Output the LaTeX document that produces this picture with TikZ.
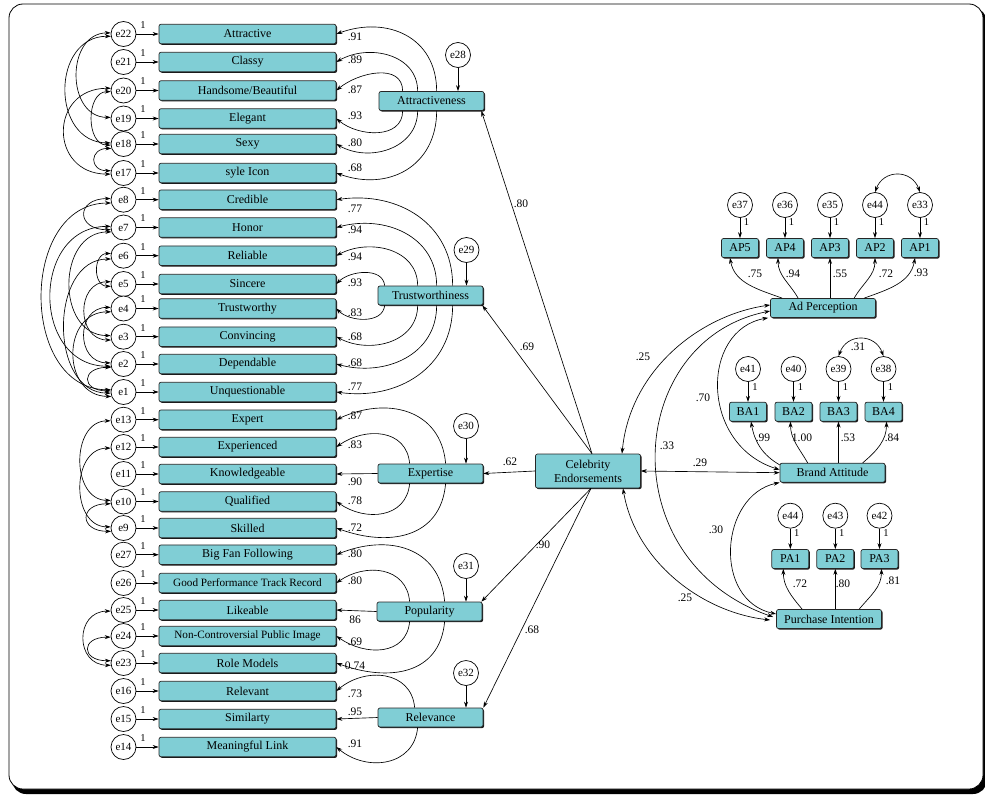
\documentclass[tikz,border=0pt]{standalone}
\usepackage{fontspec}
\setmainfont{Liberation Serif}
\usetikzlibrary{arrows.meta,shadows,calc}
\definecolor{boxfill}{RGB}{128,206,213}
\newcommand\myfs[1]{\fontsize{#1}{#1}\selectfont}
\begin{document}
\begin{tikzpicture}[x=1pt,y=-1pt,
  ind/.style={draw=black!85, line width=0.7pt, fill=boxfill, rounded corners=2pt,
    minimum width=177pt, minimum height=19.5pt, inner sep=0pt, font=\myfs{12},
    drop shadow={shadow xshift=1.1pt, shadow yshift=-1.1pt, opacity=0.9, fill=black}},
  lat/.style={ind, minimum width=105pt, minimum height=19pt},
  obs/.style={ind, minimum width=37pt, minimum height=19pt},
  err/.style={circle, draw, line width=0.7pt, fill=white, minimum size=25pt, inner sep=0pt, font=\myfs{11}},
  reg/.style={-{Stealth[length=6pt,width=4pt]}, line width=0.65pt},
  cov/.style={{Stealth[length=6pt,width=4pt]}-{Stealth[length=6pt,width=4pt]}, line width=0.65pt},
  lab/.style={font=\myfs{11.5}, inner sep=0pt},
  one/.style={font=\myfs{10.5}, inner sep=0pt}]
\useasboundingbox (0,0) rectangle (985,795);
% frame
\fill[black, rounded corners=14pt] (12,8) rectangle (987,794);
\draw[fill=white, line width=0.8pt, rounded corners=14pt] (9,4) rectangle (983,789);

% left indicators
\foreach \n/\t/\yy/\e in {
  a1/Attractive/34/e22, a2/Classy/62/e21, a3/{Handsome/Beautiful}/90.5/e20,
  a4/Elegant/118.5/e19, a5/Sexy/144/e18, a6/{syle Icon}/173/e17,
  t1/Credible/199.7/e8, t2/Honor/227.5/e7, t3/Reliable/255.7/e6, t4/Sincere/284/e5,
  t5/Trustworthy/308.5/e4, t6/Convincing/336.7/e3, t7/Dependable/364/e2, t8/Unquestionable/392/e1,
  x1/Expert/419.7/e13, x2/Experienced/447/e12, x3/Knowledgeable/474/e11, x4/Qualified/501.5/e10,
  x5/Skilled/528/e9,
  p1/{Big Fan Following}/554.7/e27, p2/{\myfs{11.2}Good Performance Track Record}/583/e26,
  p3/Likeable/610/e25, p4/{\myfs{11.2}Non-Controversial Public Image}/636/e24, p5/{Role Models}/663/e23,
  r1/Relevant/691/e16, r2/Similarty/719/e15, r3/{Meaningful Link}/747/e14}{
  \node[ind] (\n) at (247.5,\yy) {\t};
  \node[err] (\e) at (123.5,\yy) {\e};
  \draw[reg] (\e) -- (\n);
  \node[one] at (143,\yy-9) {1};
}

% latent factors
\node[lat] (att) at (431.5,101) {Attractiveness};
\node[lat] (tru) at (430.5,295.5) {Trustworthiness};
\node[lat] (exp) at (430.5,473.5) {Expertise};
\node[lat] (pop) at (429.5,611.5) {Popularity};
\node[lat] (rel) at (430.5,717.5) {Relevance};
\node[err] (e28) at (458,55) {e28};
\node[err] (e29) at (466.5,250) {e29};
\node[err] (e30) at (466,426) {e30};
\node[err] (e31) at (466,566) {e31};
\node[err] (e32) at (466,673) {e32};
\draw[reg] (e28) -- (e28 |- att.north);
\draw[reg] (e29) -- (e29 |- tru.north);
\draw[reg] (e30) -- (e30 |- exp.north);
\draw[reg] (e31) -- (e31 |- pop.north);
\draw[reg] (e32) -- (e32 |- rel.north);

\node[lat, minimum height=34pt, align=center, font=\fontsize{12}{14}\selectfont] (ce) at (588,471) {Celebrity\\Endorsements};

% loadings: attractiveness
\draw[reg] ([xshift=58pt]att.north west) to[out=90,in=20,looseness=1.2] (a1.east);
\draw[reg] ([xshift=39pt]att.north west) to[out=90,in=30,looseness=1.1] (a2.east);
\draw[reg] ([xshift=24pt]att.north west) to[out=90,in=40,looseness=1.1] (a3.east);
\draw[reg] ([xshift=24pt]att.south west) to[out=-90,in=-40,looseness=1.1] (a4.east);
\draw[reg] ([xshift=39pt]att.south west) to[out=-90,in=-30,looseness=1.1] (a5.east);
\draw[reg] ([xshift=58pt]att.south west) to[out=-90,in=-20,looseness=1.2] (a6.east);
% trustworthiness
\draw[reg] ([xshift=75pt]tru.north west) to[out=90,in=8,looseness=1.1] (t1.east);
\draw[reg] ([xshift=59pt]tru.north west) to[out=90,in=15,looseness=1.1] (t2.east);
\draw[reg] ([xshift=40pt]tru.north west) to[out=90,in=28,looseness=1.1] (t3.east);
\draw[reg] ([xshift=7pt]tru.north west) to[out=95,in=45] (t4.east);
\draw[reg] ([xshift=7pt]tru.south west) to[out=-95,in=-45] (t5.east);
\draw[reg] ([xshift=40pt]tru.south west) to[out=-90,in=-28,looseness=1.1] (t6.east);
\draw[reg] ([xshift=59pt]tru.south west) to[out=-90,in=-15,looseness=1.1] (t7.east);
\draw[reg] ([xshift=75pt]tru.south west) to[out=-90,in=-8,looseness=1.1] (t8.east);
% expertise
\draw[reg] ([xshift=68pt]exp.north west) to[out=95,in=25,looseness=1.2] (x1.east);
\draw[reg] ([xshift=32pt]exp.north west) to[out=95,in=35,looseness=1.2] (x2.east);
\draw[reg] (exp.west) -- (x3.east);
\draw[reg] ([xshift=32pt]exp.south west) to[out=-95,in=-35,looseness=1.2] (x4.east);
\draw[reg] ([xshift=68pt]exp.south west) to[out=-95,in=-20,looseness=1.2] (x5.east);
% popularity
\draw[reg] ([xshift=68pt]pop.north west) to[out=95,in=22,looseness=1.2] (p1.east);
\draw[reg] ([xshift=33pt]pop.north west) to[out=95,in=35,looseness=1.2] (p2.east);
\draw[reg] (pop.west) -- (p3.east);
\draw[reg] ([xshift=33pt]pop.south west) to[out=-95,in=-35,looseness=1.2] (p4.east);
\draw[reg] ([xshift=68pt]pop.south west) to[out=-95,in=-20,looseness=1.2] (p5.east);
% relevance
\draw[reg] ([xshift=37pt]rel.north west) to[out=95,in=40,looseness=1.2] (r1.east);
\draw[reg] (rel.west) -- (r2.east);
\draw[reg] ([xshift=40pt]rel.south west) to[out=-95,in=-40,looseness=1.2] (r3.east);

% loading labels (left)
\foreach \v/\yy in {.91/37,.89/60,.87/90,.93/116,.80/143,.68/168,
  .77/209,.94/230,.94/256.7,.93/282.7,.83/312.7,.68/336.7,.68/363,.77/386.7,
  .87/415.7,.83/445,.90/481.7,.78/501,.72/528,
  .80/554,.80/580.7,86/620,.69/641.7,0.74/666,
  .73/694,.95/711.7,.91/744}{
  \node[lab] at (355,\yy) {\v};
}

% error covariances (left)
\draw[cov] (e22.175) .. controls +(-45,0) and +(-45,0) .. (e19.175);
\draw[cov] (e22.190) .. controls +(-60,0) and +(-60,0) .. (e18.175);
\draw[cov] (e20.185) .. controls +(-25,0) and +(-25,0) .. (e18.185);
\draw[cov] (e20.170) .. controls +(-62,0) and +(-62,0) .. (e17.185);
\draw[cov] (e18.200) .. controls +(-22,0) and +(-22,0) .. (e17.170);
\draw[cov] (e8.175) .. controls +(-35,0) and +(-35,0) .. (e7.190);
\draw[cov] (e8.195) .. controls +(-92,0) and +(-92,0) .. (e1.170);
\draw[cov] (e7.175) .. controls +(-80,0) and +(-80,0) .. (e2.190);
\draw[cov] (e7.200) .. controls +(-55,0) and +(-55,0) .. (e3.175);
\draw[cov] (e6.170) .. controls +(-18,0) and +(-18,0) .. (e5.190);
\draw[cov] (e6.195) .. controls +(-62,0) and +(-62,0) .. (e1.185);
\draw[cov] (e5.170) .. controls +(-35,0) and +(-35,0) .. (e3.195);
\draw[cov] (e4.175) .. controls +(-35,0) and +(-35,0) .. (e2.175);
\draw[cov] (e4.195) .. controls +(-50,0) and +(-50,0) .. (e1.200);
\draw[cov] (e2.195) .. controls +(-30,0) and +(-30,0) .. (e1.175);
\draw[cov] (e13.185) .. controls +(-40,0) and +(-40,0) .. (e10.175);
\draw[cov] (e12.185) .. controls +(-40,0) and +(-40,0) .. (e9.175);
\draw[cov] (e10.190) .. controls +(-32,0) and +(-32,0) .. (e9.195);
\draw[cov] (e25.185) .. controls +(-36,0) and +(-36,0) .. (e23.190);
\draw[cov] (e24.185) .. controls +(-30,0) and +(-30,0) .. (e23.170);

% celebrity endorsements to factors
\draw[reg] ([xshift=4pt]ce.north) -- ([xshift=-3pt]att.south east);
\draw[reg] ([xshift=4pt]ce.north) -- ([xshift=-1pt]tru.south east);
\draw[reg] (ce.west) -- (exp.east);
\draw[reg] ([xshift=3pt]ce.south) -- ([xshift=-1pt]pop.north east);
\draw[reg] ([xshift=3pt]ce.south) -- ([xshift=0pt]rel.north east);
\node[lab] at (521,204) {.80};
\node[lab] at (527,347) {.69};
\node[lab] at (510,462) {.62};
\node[lab] at (543,545) {.90};
\node[lab] at (532,630) {.68};

% right side
\node[lat] (ap) at (823,308) {Ad Perception};
\node[lat] (ba) at (832.5,472.7) {Brand Attitude};
\node[lat] (pi) at (829,619) {Purchase Intention};
\foreach \n/\xx/\e in {AP5/740/e37, AP4/785/e36, AP3/830/e35, AP2/875/e44, AP1/920/e33}{
  \node[obs] (\n) at (\xx,248) {\n};
  \node[err] (er\n) at (\xx,205) {\e};
  \draw[reg] (er\n) -- (\n);
  \node[one] at (\xx+6.5,222) {1};
}
\foreach \n/\xx/\e in {BA1/748/e41, BA2/793.5/e40, BA3/838.5/e39, BA4/883.5/e38}{
  \node[obs] (\n) at (\xx,411.7) {\n};
  \node[err] (er\n) at (\xx,369) {\e};
  \draw[reg] (er\n) -- (\n);
  \node[one] at (\xx+7,387) {1};
}
\foreach \n/\xx/\e in {PA1/790.3/e44, PA2/835.3/e43, PA3/879.5/e42}{
  \node[obs] (\n) at (\xx,559) {\n};
  \node[err] (er\n) at (\xx,515.7) {\e};
  \draw[reg] (er\n) -- (\n);
  \node[one] at (\xx+6.5,533) {1};
}
% loadings right
\draw[reg] ([xshift=12pt]ap.north west) to[out=160,in=-80] ([xshift=-10pt]AP5.south);
\draw[reg] ([xshift=28pt]ap.north west) to[out=120,in=-90] ([xshift=-7pt]AP4.south);
\draw[reg] (AP3 |- ap.north) -- (AP3.south);
\draw[reg] ([xshift=84pt]ap.north west) to[out=60,in=-90] (AP2.south);
\draw[reg] ([xshift=94pt]ap.north west) to[out=20,in=-100] ([xshift=-5pt]AP1.south);
\draw[reg] ([yshift=-2pt]ba.north west) to[out=150,in=-80] ([xshift=3pt]BA1.south);
\draw[reg] ([xshift=28pt]ba.north west) to[out=120,in=-90] ([xshift=-3pt]BA2.south);
\draw[reg] (BA3 |- ba.north) -- (BA3.south);
\draw[reg] ([xshift=83pt]ba.north west) to[out=40,in=-90] ([xshift=3pt]BA4.south);
\draw[reg] ([xshift=26pt]pi.north west) to[out=130,in=-90] ([xshift=-7pt]PA1.south);
\draw[reg] (PA2 |- pi.north) -- (PA2.south);
\draw[reg] ([xshift=83pt]pi.north west) to[out=50,in=-90] ([xshift=2pt]PA3.south);
\foreach \v/\xx/\yy in {.75/755/274,.94/793/274,.55/840/274,.72/886/274,.93/921/273,
  .99/763/438,1.00/802/438,.53/848/438,.84/892/438,
  .72/800/584,.80/843/584,.81/893/581}{
  \node[lab] at (\xx,\yy) {\v};
}
% right covariances
\draw[cov] (erAP2.north) to[out=70,in=110,looseness=1.4] (erAP1.north);
\draw[cov] (erBA3.north) to[out=70,in=110,looseness=1.4] (erBA4.north);
\node[lab] at (858,347) {.31};

% structural correlations
\draw[cov] ([xshift=34pt]ce.north) .. controls (630,370) and (700,315) .. ([yshift=3pt]ap.west);
\draw[cov] ([yshift=3pt]ba.west) .. controls (700,445) and (700,330) .. ([xshift=-2pt]ap.south west);
\draw[cov] ([yshift=-3pt]ap.west) .. controls (625,340) and (610,560) .. ([xshift=-3pt,yshift=2pt]pi.west);
\draw[cov] (ba.south west) .. controls (720,495) and (712,600) .. ([yshift=5pt]pi.west);
\draw[cov] ([xshift=35pt]ce.south) .. controls (635,560) and (700,612) .. ([xshift=-6pt,yshift=-1pt]pi.west);
\draw[cov] (ce.east) -- (ba.west);
\node[lab] at (643,357) {.25};
\node[lab] at (703,398) {.70};
\node[lab] at (667,446) {.33};
\node[lab] at (700,463) {.29};
\node[lab] at (716,530) {.30};
\node[lab] at (685,598) {.25};
\end{tikzpicture}
\end{document}
